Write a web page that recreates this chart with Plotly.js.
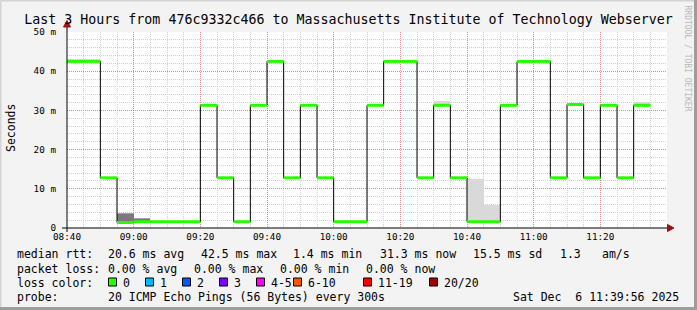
<!DOCTYPE html>
<html><head><meta charset="utf-8">
<script src="https://cdn.plot.ly/plotly-3.0.1.min.js"></script>
<style>html,body{margin:0;padding:0;background:#f3f3f3;overflow:hidden}#chart{width:697px;height:310px}</style>
</head><body><div id="chart"></div>
<script>
// ---------------- data ----------------
const day = '2025-12-06';
const times = ['08:40','08:45','08:50','08:55','09:00','09:05','09:10','09:15','09:20','09:25',
  '09:30','09:35','09:40','09:45','09:50','09:55','10:00','10:05','10:10','10:15',
  '10:20','10:25','10:30','10:35','10:40','10:45','10:50','10:55','11:00','11:05',
  '11:10','11:15','11:20','11:25','11:30'];
const median = [42.5,42.5,12.8,1.4,1.6,1.6,1.6,1.6,31.3,12.8,
  1.6,31.3,42.5,12.8,31.3,12.8,1.6,1.6,31.3,42.5,
  42.5,12.8,31.3,12.8,1.6,1.6,31.3,42.5,42.5,12.8,
  31.5,12.8,31.3,12.8,31.3];
const smokeLow = [42.5,42.5,null,1.2,1.5,null,null,null,null,null,
  null,null,null,null,null,null,null,null,null,null,
  null,null,31.3,null,1.6,1.6,null,null,null,null,
  null,null,null,null,31.3];
const smokeLight = [43.0,43.0,null,null,null,null,null,null,null,null,
  null,null,null,null,null,null,null,null,null,null,
  null,null,32.4,null,12.5,5.9,null,null,null,null,
  null,null,null,null,32.1];
const smokeMid = [null,null,null,3.9,2.6,null,null,null,null,null,
  null,null,null,null,null,null,null,null,null,null,
  null,null,null,null,null,null,null,null,null,null,
  null,null,null,null,null];
const smokeDark = [null,null,null,3.5,2.3,null,null,null,null,null,
  null,null,null,null,null,null,null,null,null,null,
  null,null,null,null,null,null,null,null,null,null,
  null,null,null,null,null];
const stepMinutes = 5;
const xStart = '08:40', xEnd = '11:40';
const xTicks = ['08:40','09:00','09:20','09:40','10:00','10:20','10:40','11:00','11:20'];
const yTickVals = [0,10,20,30,40,50];
const yTickText = ['0','10 m','20 m','30 m','40 m','50 m'];
const lossLabels = ['0','1','2','3','4-5','6-10','11-19','20/20'];
const lossColors = ['#26ff00','#00b8ff','#0059ff','#7e00ff','#ff00ff','#ff5500','#ff0000','#a10000'];
const titleText = 'Last 3 Hours from 476c9332c466 to Massachusetts Institute of Technology Webserver';
const statsRtt = [['median rtt:',16],['20.6 ms avg',107],['42.5 ms max',200],['1.4 ms min',292],['31.3 ms now',379],['15.5 ms sd',472],['1.3',559],['am/s',601]];
const statsLoss = [['packet loss:',16],['0.00 % avg',107],['0.00 % max',193],['0.00 % min',279],['0.00 % now',365]];
const probeText = '20 ICMP Echo Pings (56 Bytes) every 300s';
const dateText = 'Sat Dec  6 11:39:56 2025';

// ---------------- helpers ----------------
const ts = hm => day + ' ' + hm + ':00';
function addMin(hm, m){
  let [h, mm] = hm.split(':').map(Number); let t = h*60+mm+m;
  return String(Math.floor(t/60)).padStart(2,'0') + ':' + String(t%60).padStart(2,'0');
}
const L = 67, R = 667, T = 32, B = 228;
const px = x => (x - L) / (R - L);
const py = y => (B - y) / (B - T);
const nb = s => s.replace(/ /g, '\u00a0');
const MONO = 'DejaVu Sans Mono, monospace';

// ---------------- traces ----------------
const widthMs = stepMinutes * 60000;
function smokeTrace(tops, color){
  return {type:'bar', x: times.map(ts), base: smokeLow,
    y: tops.map((v,i) => v == null ? null : v - smokeLow[i]),
    width: widthMs, offset: 0, marker:{color: color, line:{width:0}},
    hoverinfo:'skip', showlegend:false};
}
const traces = [
  smokeTrace(smokeLight, '#d9d9d9'),
  smokeTrace(smokeMid, '#a3a3a3'),
  smokeTrace(smokeDark, '#7a7a7a'),
];
const lastT = addMin(times[times.length-1], stepMinutes);
traces.push({type:'scatter', mode:'lines', x: times.concat([lastT]).map(ts),
  y: median.concat([median[median.length-1]]), line:{shape:'hv', color:'#000', width:1},
  hoverinfo:'skip', showlegend:false});
const gx = [], gy = [];
times.forEach((t,i) => { gx.push(ts(t), ts(addMin(t, stepMinutes)), null); gy.push(median[i], median[i], null); });
traces.push({type:'scatter', mode:'lines', x: gx, y: gy, line:{color: lossColors[0], width:3},
  hoverinfo:'skip', showlegend:false});

// ---------------- annotations / shapes ----------------
const ann = [];
const txt = (s, x, y, opts) => ann.push(Object.assign({text: nb(s), xref:'paper', yref:'paper',
  x: px(x), y: py(y), xanchor:'left', yanchor:'middle', showarrow:false,
  font:{family: MONO, size: 11.5, color:'#000'}, borderpad:0}, opts||{}));
statsRtt.forEach(([s,x]) => txt(s, x, 254.5));
statsLoss.forEach(([s,x]) => txt(s, x, 268.5));
txt('loss color:', 16, 282.5);
txt('probe:', 16, 296.5);
txt(probeText, 107, 296.5);
txt(dateText, 680, 296.5, {xanchor:'right'});
txt('Seconds', 11, 128, {xanchor:'center', textangle:-90});
txt('RRDTOOL / TOBI OETIKER', 687.5, 58, {xanchor:'center', textangle:90,
  font:{family: MONO, size: 8, color:'#b8b8b8'}});

const shapes = [];
const boxX = [108.5, 145.5, 182.5, 219.5, 256.5, 293.5, 363.5, 429.5];
lossLabels.forEach((lab, i) => {
  shapes.push({type:'rect', xref:'paper', yref:'paper', x0: px(boxX[i]), x1: px(boxX[i]+8),
    y0: py(278), y1: py(286), fillcolor: lossColors[i], line:{color:'#000', width:1}});
  txt(lab, boxX[i] + 13, 282.5);
});
// axis lines and arrows
shapes.push({type:'line', xref:'paper', yref:'paper', x0: px(62), x1: px(669), y0: 0, y1: 0, line:{color:'#000', width:1}});
shapes.push({type:'line', xref:'paper', yref:'paper', x0: 0, x1: 0, y0: py(232), y1: py(24), line:{color:'#000', width:1}});
const P = (x,y) => px(x) + ',' + py(y);
shapes.push({type:'path', xref:'paper', yref:'paper', path: 'M' + P(667.5,224.5) + ' L' + P(674,228) + ' L' + P(667.5,231.5) + ' Z',
  fillcolor:'#a01010', line:{color:'#a01010', width:1}});
shapes.push({type:'path', xref:'paper', yref:'paper', path: 'M' + P(63.5,27) + ' L' + P(67,20.5) + ' L' + P(70.5,27) + ' Z',
  fillcolor:'#a01010', line:{color:'#a01010', width:1}});
// image frame
shapes.push({type:'line', xref:'paper', yref:'paper', x0: px(0), x1: px(697), y0: py(0.5), y1: py(0.5), line:{color:'#d4d4d4', width:2}});
shapes.push({type:'line', xref:'paper', yref:'paper', x0: px(0.5), x1: px(0.5), y0: py(0), y1: py(310), line:{color:'#d4d4d4', width:2}});
shapes.push({type:'line', xref:'paper', yref:'paper', x0: px(0), x1: px(697), y0: py(308.5), y1: py(308.5), line:{color:'#9d9d9d', width:3}});
shapes.push({type:'line', xref:'paper', yref:'paper', x0: px(695.5), x1: px(695.5), y0: py(0), y1: py(310), line:{color:'#9d9d9d', width:3}});

const layout = {
  width: 697, height: 310,
  margin: {l: L, r: 697 - R, t: T, b: 310 - B, pad: 0},
  paper_bgcolor: '#f3f3f3', plot_bgcolor: '#ffffff',
  barmode: 'overlay', bargap: 0, showlegend: false,
  title: {text: titleText, x: 0.5, xref: 'container', xanchor: 'center',
    y: 1 - 19/310, yref: 'container', yanchor: 'middle',
    font: {family: MONO, size: 13.3, color: '#000'}},
  xaxis: {type: 'date', range: [ts(xStart), ts(xEnd)], tickmode: 'array',
    tickvals: xTicks.map(ts), ticktext: xTicks, ticks: '', showline: false, zeroline: false,
    ticklabelstandoff: 2,
    gridcolor: 'rgba(255,0,0,0.35)', griddash: '1px,1px', gridwidth: 1,
    minor: {tickmode: 'linear', dtick: stepMinutes*60000, tick0: ts(xStart), showgrid: true, gridcolor: '#d2d2d2', griddash: '1px,1px', ticks: ''},
    tickfont: {family: MONO, size: 9.3, color: '#000'}, fixedrange: true},
  yaxis: {range: [0, 50], tickmode: 'array', tickvals: yTickVals, ticktext: yTickText,
    ticks: '', showline: false, zeroline: false, ticklabelstandoff: 10,
    gridcolor: 'rgba(255,0,0,0.35)', griddash: '1px,1px', gridwidth: 1,
    minor: {tickmode: 'linear', dtick: 2, tick0: 0, showgrid: true, gridcolor: '#d2d2d2', griddash: '1px,1px', ticks: ''},
    tickfont: {family: MONO, size: 9.3, color: '#000'}, fixedrange: true},
  annotations: ann, shapes: shapes
};
Plotly.newPlot('chart', traces, layout, {displayModeBar: false, staticPlot: true});
</script></body></html>
